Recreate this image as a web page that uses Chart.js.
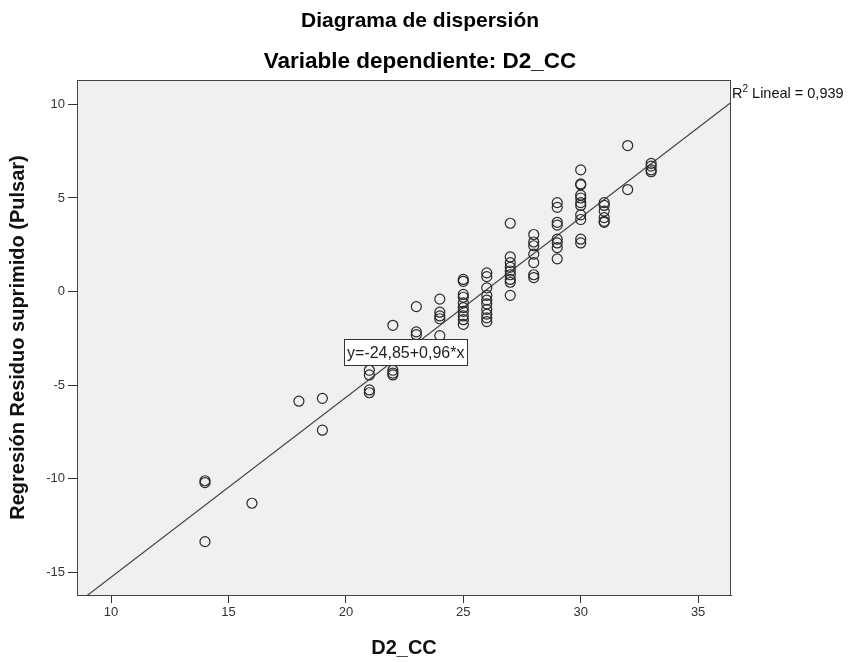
<!DOCTYPE html>
<html>
<head>
<meta charset="utf-8">
<script src="https://cdn.jsdelivr.net/npm/chart.js@4/dist/chart.umd.min.js"></script>
<style>
  body { margin: 0; background: #fff; }
  #wrap { width: 848px; height: 662px; }
</style>
</head>
<body>
<div id="wrap"><canvas id="chart"></canvas></div>
<script>
// valores D2_CC (eje x)
const d2ccValues = [
    14, 14, 14,
    16,
    18,
    19, 19,
    21, 21, 21, 21,
    22, 22, 22, 22,
    23, 23, 23,
    24, 24, 24, 24, 24,
    25, 25, 25, 25, 25, 25, 25, 25, 25, 25,
    26, 26, 26, 26, 26, 26, 26, 26, 26, 26,
    27, 27, 27, 27, 27, 27, 27, 27, 27,
    28, 28, 28, 28, 28, 28, 28,
    29, 29, 29, 29, 29, 29, 29, 29,
    30, 30, 30, 30, 30, 30, 30, 30, 30, 30, 30,
    31, 31, 31, 31, 31, 31,
    32, 32,
    33, 33, 33, 33
];

// Regresión Residuo suprimido (Pulsar)
const residuoValues = [
    -10.1, -10.2, -13.35,
    -11.3,
    -5.85,
    -5.7, -7.4,
    -4.2, -4.45, -5.25, -5.4,
    -1.8, -4.2, -4.35, -4.45,
    -0.8, -2.15, -2.3,
    -0.4, -1.1, -1.3, -1.45, -2.35,
    0.65, 0.55, -0.15, -0.3, -0.6, -0.85, -1.05, -1.3, -1.5, -1.75,
    1.0, 0.8, 0.2, -0.2, -0.45, -0.65, -0.95, -1.2, -1.4, -1.6,
    3.65, 1.85, 1.55, 1.3, 1.1, 0.9, 0.65, 0.5, -0.2,
    3.05, 2.65, 2.45, 2.0, 1.55, 0.9, 0.75,
    4.75, 4.5, 3.7, 3.55, 2.8, 2.6, 2.35, 1.75,
    6.5, 5.75, 5.7, 5.15, 5.0, 4.75, 4.6, 4.1, 3.85, 2.8, 2.6,
    4.75, 4.6, 4.3, 3.95, 3.75, 3.7,
    7.8, 5.45,
    6.85, 6.7, 6.5, 6.4
];

// ticks de los ejes
const xTicks = [10, 15, 20, 25, 30, 35];
const yTicks = [-15, -10, -5, 0, 5, 10];

// límites de los ejes
const xMin = 8.55, xMax = 36.4;
const yMin = -16.2, yMax = 11.3;

// ajuste lineal
const intercepto = -24.85;
const pendiente = 0.96;
const r2 = '0,939';
const etiquetaEcuacion = 'y=-24,85+0,96*x';
const posEtiqueta = { x: 22.55, y: -3.25 };

const FONT = "'Liberation Sans', Arial, sans-serif";

const puntos = d2ccValues.map((x, i) => ({ x: x, y: residuoValues[i] }));
const lineaAjuste = [xMin, xMax].map(x => ({ x: x, y: intercepto + pendiente * x }));

// fondo, marco y etiquetas
const decoracion = {
    id: 'decoracion',
    beforeDraw(chart) {
        const { ctx, chartArea: a } = chart;
        ctx.save();
        ctx.fillStyle = '#f0f0f0';
        ctx.fillRect(a.left, a.top, a.right - a.left, a.bottom - a.top);
        ctx.restore();
    },
    afterDraw(chart) {
        const { ctx, chartArea: a, scales } = chart;
        ctx.save();
        // marco
        ctx.strokeStyle = '#444';
        ctx.lineWidth = 1;
        ctx.strokeRect(a.left + 0.5, a.top + 0.5, a.right - a.left - 1, a.bottom - a.top);

        // títulos
        const cx = chart.width / 2 - 4;
        ctx.fillStyle = '#000';
        ctx.textAlign = 'center';
        ctx.textBaseline = 'middle';
        ctx.font = 'bold 21px ' + FONT;
        ctx.fillText('Diagrama de dispersión', cx, 21);
        ctx.font = 'bold 22.5px ' + FONT;
        ctx.fillText('Variable dependiente: D2_CC', cx, 62);

        // etiqueta de la ecuación
        ctx.font = '16px ' + FONT;
        const px = scales.x.getPixelForValue(posEtiqueta.x);
        const py = scales.y.getPixelForValue(posEtiqueta.y);
        const w = ctx.measureText(etiquetaEcuacion).width + 6;
        const h = 26;
        ctx.fillStyle = '#fff';
        ctx.fillRect(px - w / 2, py - h / 2, w, h);
        ctx.strokeStyle = '#333';
        ctx.strokeRect(Math.round(px - w / 2) + 0.5, Math.round(py - h / 2) + 0.5, Math.round(w), h);
        ctx.fillStyle = '#222';
        ctx.fillText(etiquetaEcuacion, px, py + 1);

        // R2 lineal
        ctx.textAlign = 'left';
        ctx.textBaseline = 'alphabetic';
        ctx.fillStyle = '#111';
        let tx = a.right + 1;
        const ty = a.top + 18;
        ctx.font = '14.5px ' + FONT;
        ctx.fillText('R', tx, ty);
        tx += ctx.measureText('R').width;
        ctx.font = '10px ' + FONT;
        ctx.fillText('2', tx, ty - 6);
        tx += ctx.measureText('2').width;
        ctx.font = '14.5px ' + FONT;
        ctx.fillText(' Lineal = ' + r2, tx, ty);
        ctx.restore();
    }
};

new Chart(document.getElementById('chart'), {
    type: 'scatter',
    data: {
        datasets: [{
            label: 'Residuo',
            data: puntos,
            pointRadius: 5,
            pointHoverRadius: 5,
            pointBorderWidth: 1.2,
            pointBorderColor: '#2a2a2a',
            pointBackgroundColor: 'rgba(0,0,0,0)'
        }, {
            label: 'Lineal',
            type: 'line',
            data: lineaAjuste,
            borderColor: '#444',
            borderWidth: 1.2,
            pointRadius: 0,
            fill: false
        }]
    },
    options: {
        responsive: true,
        maintainAspectRatio: false,
        animation: false,
        layout: { padding: { top: 80, right: 117, left: 0, bottom: 0 } },
        plugins: {
            legend: { display: false },
            tooltip: { enabled: false }
        },
        scales: {
            x: {
                type: 'linear',
                min: xMin,
                max: xMax,
                afterBuildTicks: s => { s.ticks = xTicks.map(v => ({ value: v })); },
                afterFit: s => { s.height = 67; },
                grid: { display: true, drawOnChartArea: false, tickLength: 8, color: '#333' },
                border: { color: '#444' },
                ticks: { color: '#333', font: { size: 13, family: FONT }, padding: 2 },
                title: { display: true, text: 'D2_CC', color: '#111', font: { size: 20, weight: 'bold', family: FONT }, padding: { top: 0, bottom: 2 } }
            },
            y: {
                type: 'linear',
                min: yMin,
                max: yMax,
                afterBuildTicks: s => { s.ticks = yTicks.map(v => ({ value: v })); },
                afterFit: s => { s.width = 77; },
                grid: { display: true, drawOnChartArea: false, tickLength: 9, color: '#333' },
                border: { color: '#444' },
                ticks: { color: '#333', font: { size: 13, family: FONT }, padding: 3 },
                title: { display: true, text: 'Regresión Residuo suprimido (Pulsar)', color: '#111', font: { size: 20, weight: 'bold', family: FONT }, padding: { top: 6, bottom: 0 } }
            }
        }
    },
    plugins: [decoracion]
});
</script>
</body>
</html>
